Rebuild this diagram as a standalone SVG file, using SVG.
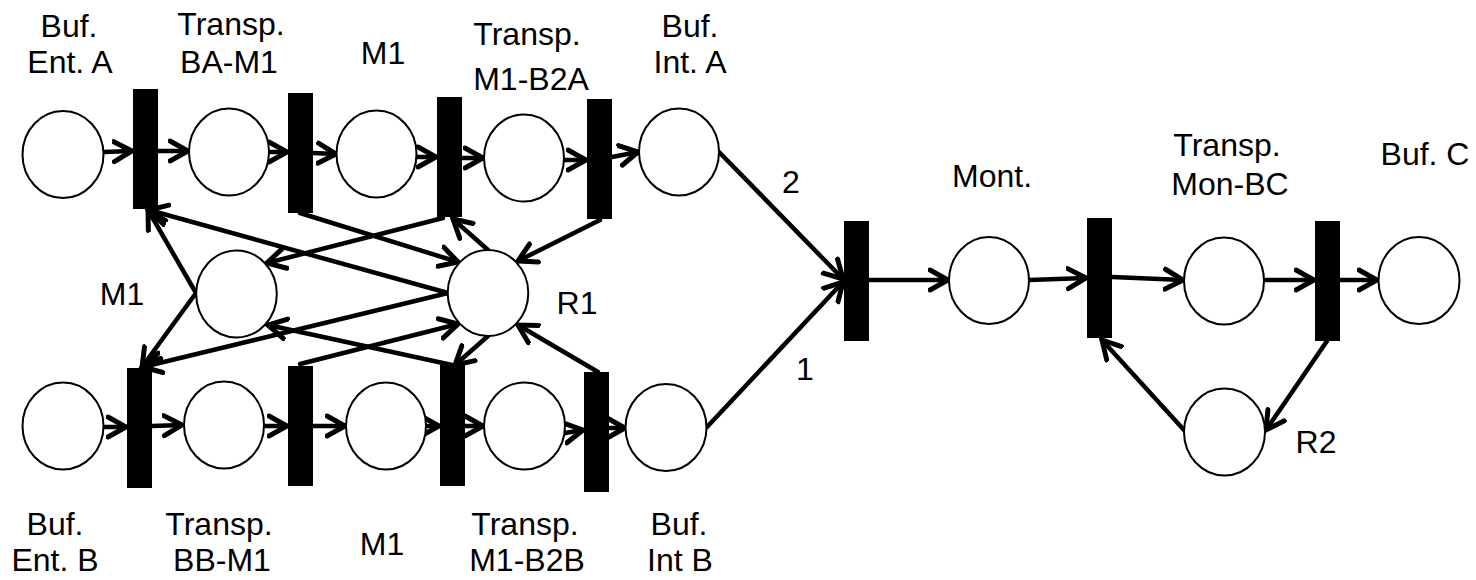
<svg xmlns="http://www.w3.org/2000/svg" width="1476" height="580" viewBox="0 0 1476 580">
<style>
.pl{fill:#fff;stroke:#000;stroke-width:2}
.tr{fill:#000}
.lb{font-family:"Liberation Sans",Arial,sans-serif;font-size:32px;fill:#000;text-anchor:middle}
.ar{fill:none;stroke:#000;stroke-width:4.5;stroke-linecap:round;marker-end:url(#ah)}
</style>
<defs>
<marker id="ah" markerUnits="userSpaceOnUse" markerWidth="40" markerHeight="40" viewBox="-20 -20 40 40" refX="0" refY="0" orient="auto">
<path d="M-18,-10 L0,0 L-18,10" fill="none" stroke="#000" stroke-width="5" stroke-linecap="round" stroke-linejoin="miter"/>
</marker>
</defs>
<rect width="1476" height="580" fill="#fff"/>
<g id="connectors">
<line class="ar" x1="104" y1="152" x2="132" y2="151"/>
<line class="ar" x1="158" y1="151" x2="188" y2="151"/>
<line class="ar" x1="269" y1="152" x2="287" y2="152"/>
<line class="ar" x1="313" y1="153" x2="336" y2="154"/>
<line class="ar" x1="416" y1="157" x2="436" y2="157"/>
<line class="ar" x1="462" y1="158" x2="483" y2="158"/>
<line class="ar" x1="564" y1="160" x2="586" y2="160"/>
<line class="ar" x1="612" y1="157" x2="638" y2="152"/>
<line class="ar" x1="719" y1="152" x2="843" y2="279"/>
<line class="ar" x1="104" y1="427" x2="126" y2="427"/>
<line class="ar" x1="152" y1="426" x2="182" y2="425"/>
<line class="ar" x1="264" y1="426" x2="287" y2="426"/>
<line class="ar" x1="313" y1="426" x2="345" y2="426"/>
<line class="ar" x1="426" y1="426" x2="439" y2="426"/>
<line class="ar" x1="465" y1="426" x2="483" y2="426"/>
<line class="ar" x1="565" y1="433" x2="583" y2="430"/>
<line class="ar" x1="609" y1="428" x2="625" y2="428"/>
<line class="ar" x1="707" y1="427" x2="843" y2="282"/>
<line class="ar" x1="196" y1="293" x2="148" y2="210"/>
<line class="ar" x1="196" y1="293" x2="142" y2="367"/>
<line class="ar" x1="448" y1="293" x2="149" y2="210"/>
<line class="ar" x1="448" y1="293" x2="143" y2="367"/>
<line class="ar" x1="443" y1="218" x2="267" y2="263"/>
<line class="ar" x1="300" y1="213" x2="458" y2="262"/>
<line class="ar" x1="488" y1="250" x2="453" y2="219"/>
<line class="ar" x1="600" y1="220" x2="518" y2="261"/>
<line class="ar" x1="300" y1="364" x2="458" y2="324"/>
<line class="ar" x1="452" y1="365" x2="268" y2="325"/>
<line class="ar" x1="488" y1="336" x2="455" y2="365"/>
<line class="ar" x1="598" y1="372" x2="518" y2="325"/>
<line class="ar" x1="869" y1="280" x2="948" y2="280"/>
<line class="ar" x1="1029" y1="280" x2="1086" y2="278"/>
<line class="ar" x1="1112" y1="277" x2="1183" y2="280"/>
<line class="ar" x1="1264" y1="280" x2="1314" y2="280"/>
<line class="ar" x1="1340" y1="280" x2="1377" y2="280"/>
<line class="ar" x1="1327" y1="341" x2="1266" y2="430"/>
<line class="ar" x1="1184" y1="430" x2="1102" y2="340"/>
<text class="lb" x="791" y="193">2</text>
<text class="lb" x="805" y="380">1</text>
</g>
<g id="p_buf_ent_a"><ellipse class="pl" cx="63" cy="154.5" rx="40.5" ry="43.5"/><text class="lb" x="69" y="37">Buf.</text><text class="lb" x="70" y="73">Ent. A</text></g>
<g id="p_transp_ba_m1"><ellipse class="pl" cx="229" cy="152" rx="40" ry="43.5"/><text class="lb" x="231" y="35">Transp.</text><text class="lb" x="229" y="73">BA-M1</text></g>
<g id="p_m1_a"><ellipse class="pl" cx="376.5" cy="154" rx="40" ry="43.5"/><text class="lb" x="383" y="64">M1</text></g>
<g id="p_transp_m1_b2a"><ellipse class="pl" cx="524" cy="158" rx="40" ry="43.5"/><text class="lb" x="527" y="45">Transp.</text><text class="lb" x="531" y="90">M1-B2A</text></g>
<g id="p_buf_int_a"><ellipse class="pl" cx="679" cy="152" rx="40" ry="43.5"/><text class="lb" x="690" y="37">Buf.</text><text class="lb" x="690" y="73">Int. A</text></g>
<g id="p_buf_ent_b"><ellipse class="pl" cx="63" cy="426" rx="40.5" ry="43.5"/><text class="lb" x="55" y="535">Buf.</text><text class="lb" x="55" y="571">Ent. B</text></g>
<g id="p_transp_bb_m1"><ellipse class="pl" cx="224" cy="425" rx="40" ry="43.5"/><text class="lb" x="219" y="535">Transp.</text><text class="lb" x="222" y="571">BB-M1</text></g>
<g id="p_m1_b"><ellipse class="pl" cx="386" cy="426" rx="40" ry="43.5"/><text class="lb" x="382" y="555">M1</text></g>
<g id="p_transp_m1_b2b"><ellipse class="pl" cx="524.5" cy="426" rx="40.5" ry="43.5"/><text class="lb" x="525" y="535">Transp.</text><text class="lb" x="527" y="571">M1-B2B</text></g>
<g id="p_buf_int_b"><ellipse class="pl" cx="666" cy="427.5" rx="40.5" ry="43.5"/><text class="lb" x="679" y="535">Buf.</text><text class="lb" x="680" y="571">Int B</text></g>
<g id="p_m1_res"><ellipse class="pl" cx="236.5" cy="294" rx="40.3" ry="43.5"/><text class="lb" x="122" y="305">M1</text></g>
<g id="p_r1"><ellipse class="pl" cx="488" cy="293" rx="40.3" ry="43"/><text class="lb" x="577" y="314">R1</text></g>
<g id="p_mont"><ellipse class="pl" cx="989" cy="280.5" rx="40" ry="43.5"/><text class="lb" x="992" y="187">Mont.</text></g>
<g id="p_transp_mon_bc"><ellipse class="pl" cx="1224" cy="281" rx="40" ry="43.5"/><text class="lb" x="1227" y="156">Transp.</text><text class="lb" x="1230" y="195">Mon-BC</text></g>
<g id="p_buf_c"><ellipse class="pl" cx="1419" cy="280.5" rx="40.5" ry="43.5"/><text class="lb" x="1425" y="165">Buf. C</text></g>
<g id="p_r2"><ellipse class="pl" cx="1224.5" cy="432" rx="40.5" ry="43.5"/><text class="lb" x="1316" y="453">R2</text></g>
<g id="t1"><rect class="tr" x="133" y="89" width="25" height="120"/></g>
<g id="t2"><rect class="tr" x="288" y="93" width="25" height="120"/></g>
<g id="t3"><rect class="tr" x="437" y="97" width="25" height="120"/></g>
<g id="t4"><rect class="tr" x="587" y="99" width="25" height="120"/></g>
<g id="t5"><rect class="tr" x="127" y="368" width="25" height="120"/></g>
<g id="t6"><rect class="tr" x="288" y="366" width="25" height="120"/></g>
<g id="t7"><rect class="tr" x="440" y="365" width="25" height="121"/></g>
<g id="t8"><rect class="tr" x="584" y="372" width="25" height="120"/></g>
<g id="t9"><rect class="tr" x="844" y="221" width="25" height="120"/></g>
<g id="t10"><rect class="tr" x="1087" y="218" width="25" height="120"/></g>
<g id="t11"><rect class="tr" x="1315" y="221" width="25" height="120"/></g>
</svg>
